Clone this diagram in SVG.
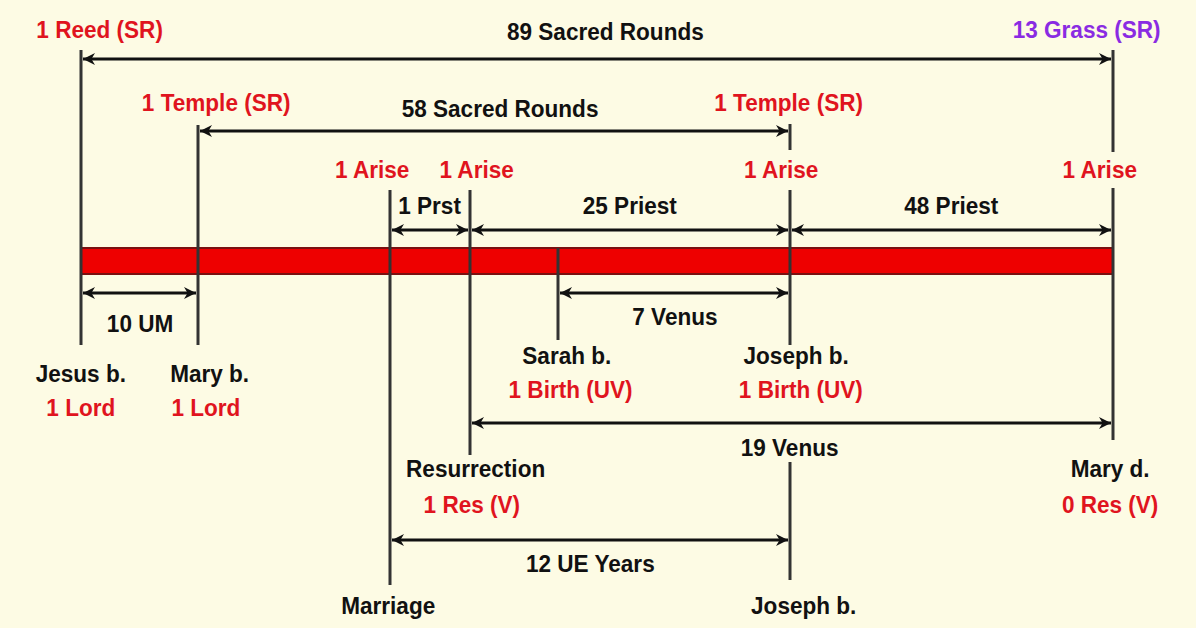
<svg xmlns="http://www.w3.org/2000/svg" width="1196" height="628" viewBox="0 0 1196 628">
<defs>
<marker id="ah" viewBox="0 0 10 10" refX="10" refY="5" markerWidth="18" markerHeight="12" markerUnits="userSpaceOnUse" orient="auto-start-reverse"><path d="M0,0 L10,5 L0,10 L3,5 z" fill="#111"/></marker>
<style>
text{font-family:"Liberation Sans",Arial,sans-serif;font-weight:bold;font-size:24px;text-anchor:middle}
.r{fill:#e0141e}.k{fill:#111}.p{fill:#8a2be2}
.v{stroke:#333;stroke-width:3}
.a{stroke:#111;stroke-width:3;marker-start:url(#ah);marker-end:url(#ah)}
</style>
</defs>
<rect width="1196" height="628" fill="#fdfbe4"/>
<g id="bar"><rect x="81" y="248" width="1032" height="26" fill="#ee0000" stroke="#7a1010" stroke-width="2"/></g>
<g id="ticks">
<line class="v" x1="81" y1="50" x2="81" y2="345"/>
<line class="v" x1="198" y1="125" x2="198" y2="345"/>
<line class="v" x1="390" y1="190" x2="390" y2="585"/>
<line class="v" x1="470" y1="190" x2="470" y2="455"/>
<line class="v" x1="558" y1="248" x2="558" y2="340"/>
<line class="v" x1="790" y1="124" x2="790" y2="150"/>
<line class="v" x1="790" y1="190" x2="790" y2="345"/>
<line class="v" x1="790" y1="462" x2="790" y2="580"/>
<line class="v" x1="1113" y1="50" x2="1113" y2="152"/>
<line class="v" x1="1113" y1="188" x2="1113" y2="440"/>
</g>
<g id="connectors">
<line class="a" x1="83" y1="59" x2="1111" y2="59"/>
<line class="a" x1="200" y1="131" x2="788" y2="131"/>
<line class="a" x1="392" y1="230" x2="468" y2="230"/>
<line class="a" x1="472" y1="230" x2="788" y2="230"/>
<line class="a" x1="792" y1="230" x2="1111" y2="230"/>
<line class="a" x1="83" y1="293" x2="196" y2="293"/>
<line class="a" x1="560" y1="293" x2="788" y2="293"/>
<line class="a" x1="472" y1="423" x2="1111" y2="423"/>
<line class="a" x1="392" y1="540" x2="788" y2="540"/>
</g>
<g id="labels" transform="scale(0.94,1)">
<text class="r" x="106" y="38">1 Reed (SR)</text>
<text class="k" x="644" y="40">89 Sacred Rounds</text>
<text class="p" x="1156" y="38">13 Grass (SR)</text>
<text class="r" x="230" y="111">1 Temple (SR)</text>
<text class="k" x="532" y="117">58 Sacred Rounds</text>
<text class="r" x="839" y="111">1 Temple (SR)</text>
<text class="r" x="396" y="178">1 Arise</text>
<text class="r" x="507" y="178">1 Arise</text>
<text class="r" x="831" y="178">1 Arise</text>
<text class="r" x="1170" y="178">1 Arise</text>
<text class="k" x="457" y="214">1 Prst</text>
<text class="k" x="670" y="214">25 Priest</text>
<text class="k" x="1012" y="214">48 Priest</text>
<text class="k" x="149" y="332">10 UM</text>
<text class="k" x="718" y="325">7 Venus</text>
<text class="k" x="86" y="382">Jesus b.</text>
<text class="r" x="86" y="416">1 Lord</text>
<text class="k" x="223" y="382">Mary b.</text>
<text class="r" x="219" y="416">1 Lord</text>
<text class="k" x="603" y="364">Sarah b.</text>
<text class="r" x="607" y="398">1 Birth (UV)</text>
<text class="k" x="847" y="364">Joseph b.</text>
<text class="r" x="852" y="398">1 Birth (UV)</text>
<text class="k" x="840" y="456">19 Venus</text>
<text class="k" x="506" y="477">Resurrection</text>
<text class="r" x="502" y="513">1 Res (V)</text>
<text class="k" x="1181" y="477">Mary d.</text>
<text class="r" x="1181" y="513">0 Res (V)</text>
<text class="k" x="628" y="572">12 UE Years</text>
<text class="k" x="413" y="614">Marriage</text>
<text class="k" x="855" y="614">Joseph b.</text>
</g>
</svg>
